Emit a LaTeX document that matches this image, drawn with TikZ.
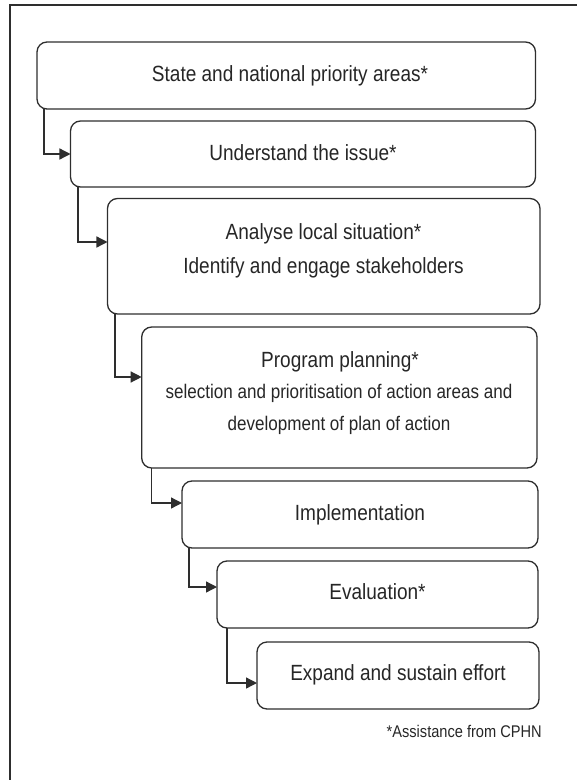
\documentclass[tikz,border=0pt]{standalone}
\usepackage{fontspec}
\setmainfont[FakeStretch=0.865]{Liberation Sans}
\usetikzlibrary{arrows.meta}
\definecolor{ink}{HTML}{2E2E2E}
\definecolor{txt}{HTML}{262626}
\tikzset{
  box/.style={draw=ink, line width=1.3bp, rounded corners=10bp, inner sep=0pt, outer sep=0pt},
  maintxt/.style={anchor=base, inner sep=0pt, text=txt, font=\fontsize{22bp}{26bp}\selectfont},
  subtxt/.style={anchor=base, inner sep=0pt, text=txt, font=\fontsize{19.7bp}{23bp}\selectfont},
  fntxt/.style={anchor=base east, inner sep=0pt, text=txt, font=\fontsize{16.9bp}{20bp}\selectfont},
  arr/.style={draw=ink, line width=1.3bp, -{Triangle[length=11bp,width=11bp]}},
  frame/.style={draw=ink, line width=1.6bp}
}
\begin{document}
\begin{tikzpicture}[x=1bp, y=-1bp]
\useasboundingbox (0,0) rectangle (577,780);
\draw[frame] (10,780) -- (10,5) -- (577,5);

\node[box, minimum width=498.5bp, minimum height=67bp] (b1) at (286.25,75.5) {};
\node[box, minimum width=465bp, minimum height=66bp] (b2) at (303,154) {};
\node[box, minimum width=432.5bp, minimum height=115.5bp] (b3) at (323.75,256.25) {};
\node[box, minimum width=395.3bp, minimum height=141bp] (b4) at (339.35,397.5) {};
\node[box, minimum width=356bp, minimum height=67bp] (b5) at (360,514.5) {};
\node[box, minimum width=321bp, minimum height=67bp] (b6) at (377.5,594.5) {};
\node[box, minimum width=282bp, minimum height=67bp] (b7) at (398,675.5) {};

\node[maintxt] (t1) at (290,81) {State and national priority areas*};
\node[maintxt] (t2) at (303,160) {Understand the issue*};
\node[maintxt] (t3a) at (323.5,239) {Analyse local situation*};
\node[maintxt] (t3b) at (323.5,273) {Identify and engage stakeholders};
\node[maintxt] (t4a) at (340,367) {Program planning*};
\node[subtxt] (t4b) at (339,398) {selection and prioritisation of action areas and};
\node[subtxt] (t4c) at (339,430) {development of plan of action};
\node[maintxt] (t5) at (360,520) {Implementation};
\node[maintxt] (t6) at (377.5,599) {Evaluation*};
\node[maintxt] (t7) at (398,680) {Expand and sustain effort};
\node[fntxt] (fn) at (542,737) {*Assistance from CPHN};

\draw[arr] ([xshift=7bp]b1.south west) |- (b2.west |- 0,154);
\draw[arr] ([xshift=7.5bp]b2.south west) |- (b3.west |- 0,242);
\draw[arr] ([xshift=7.5bp]b3.south west) |- (b4.west |- 0,377);
\draw[arr] ([xshift=10bp]b4.south west) |- (b5.west |- 0,503);
\draw[arr] ([xshift=7bp]b5.south west) |- (b6.west |- 0,587);
\draw[arr] ([xshift=10bp]b6.south west) |- (b7.west |- 0,683);
\end{tikzpicture}
\end{document}
